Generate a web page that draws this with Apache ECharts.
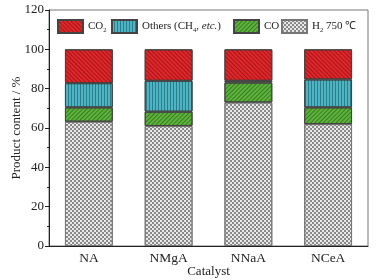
<!DOCTYPE html>
<html>
<head>
<meta charset="utf-8">
<script src="https://cdn.jsdelivr.net/npm/echarts@6/dist/echarts.min.js"></script>
<style>
html,body{margin:0;padding:0;background:#fff;}
#chart{width:388px;height:280px;}
</style>
</head>
<body>
<div id="chart"></div>
<script>
// 催化剂产物分布
var catalysts = ['NA', 'NMgA', 'NNaA', 'NCeA'];
var h2Data = [63.2, 61.0, 73.0, 62.0];
var coData = [7.3, 7.3, 10.1, 8.5];
var othersData = [12.3, 15.7, 0.9, 14.2];
var co2Data = [17.2, 16.0, 16.0, 15.3];
var yTicks = [0, 20, 40, 60, 80, 100, 120];

var myChart = echarts.init(document.getElementById('chart'));
var font = 'Liberation Serif';

var lineDecal = function(rot, c){
    return {symbol:'rect', symbolSize:1, dashArrayX:[1,0], dashArrayY:[1,2], rotation:rot, color:c};
};

var legendText = {
    fontFamily:font, fontSize:11, color:'#222',
    rich:{
        sub:{fontFamily:font, fontSize:6.5, verticalAlign:'bottom', padding:[7,0,0,0], color:'#222'},
        it:{fontFamily:font, fontSize:11, fontStyle:'italic', color:'#222'}
    }
};
var legendNames = function(name){
    if(name == 'co2') return 'CO{sub|2}';
    if(name == 'others') return 'Others (CH{sub|4}, {it|etc.})';
    if(name == 'co') return 'CO';
    return 'H{sub|2} 750 ℃';
};
// 图例分开放, 间距跟原图一样
var legendPos = [['co2', 57], ['others', 111], ['co', 233], ['h2', 281]];
var legends = legendPos.map(function(p){
    return {
        top:19, left:p[1], padding:0,
        icon:'rect', itemWidth:25, itemHeight:13, itemGap:4,
        textStyle:legendText,
        data:[p[0]],
        formatter:legendNames
    };
});

var option = {
    animation:false,
    textStyle:{fontFamily:font},
    grid:{
        left:49, right:20, top:10, bottom:34,
        outerBoundsMode:'none',
        containLabel:false,
        show:true, borderColor:'#777', borderWidth:1
    },
    legend:legends,
    xAxis:[{
        type:'category',
        data:catalysts,
        name:'Catalyst',
        nameLocation:'middle',
        nameGap:19,
        nameMoveOverlap:false,
        nameTextStyle:{fontFamily:font, fontSize:13, color:'#222', verticalAlign:'top'},
        axisLine:{lineStyle:{color:'#222'}},
        axisTick:{inside:true, alignWithLabel:true, length:4, lineStyle:{color:'#222'}},
        axisLabel:{fontFamily:font, fontSize:13.5, color:'#222', margin:5}
    }],
    yAxis:[{
        type:'value',
        min:0, max:120, interval:20,
        name:'Product content / %',
        nameLocation:'middle',
        nameGap:26,
        nameMoveOverlap:false,
        nameTextStyle:{fontFamily:font, fontSize:13, color:'#222'},
        axisLine:{show:true, lineStyle:{color:'#222'}},
        axisTick:{show:true, length:4, lineStyle:{color:'#222'}},
        minorTick:{show:true, splitNumber:2, length:2, lineStyle:{color:'#222'}},
        splitLine:{show:false},
        axisLabel:{fontFamily:font, fontSize:13, color:'#222', margin:5,
            formatter:function(v){ return yTicks.indexOf(v) >= 0 ? v : ''; }}
    }],
    series:[
        {
            name:'h2', type:'bar', stack:'total', barWidth:'60%',
            data:h2Data,
            itemStyle:{
                color:'#e8e8e8', borderColor:'#777', borderWidth:1,
                decal:{symbol:'rect', symbolSize:1, dashArrayX:[[2,2],[0,2,2,0]], dashArrayY:[2,0], rotation:0, color:'#8a8a8a'}
            }
        },
        {
            name:'co', type:'bar', stack:'total',
            data:coData,
            itemStyle:{
                color:'#5db53a', borderColor:'#444', borderWidth:1,
                decal:lineDecal(-Math.PI/4, 'rgba(30,70,20,0.55)')
            }
        },
        {
            name:'others', type:'bar', stack:'total',
            data:othersData,
            itemStyle:{
                color:'#4bb5c4', borderColor:'#444', borderWidth:1,
                decal:lineDecal(Math.PI/2, 'rgba(20,70,80,0.5)')
            }
        },
        {
            name:'co2', type:'bar', stack:'total',
            data:co2Data,
            itemStyle:{
                color:'#e3262a', borderColor:'#444', borderWidth:1,
                decal:lineDecal(Math.PI/4, 'rgba(90,10,10,0.5)')
            }
        }
    ]
};
myChart.setOption(option);
</script>
</body>
</html>
